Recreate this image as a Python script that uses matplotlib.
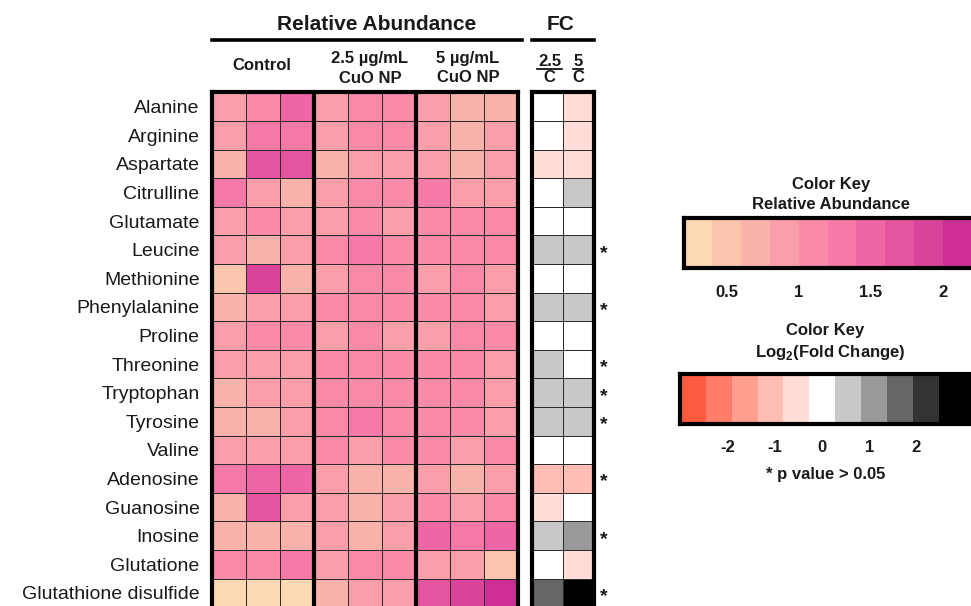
'''
Mapa de calor - Abundancia relativa de metabolitos y Fold Change (CuO NP)
'''

# Librerías.
import numpy as np
import matplotlib
matplotlib.use('Agg')
import matplotlib.pyplot as plt
from matplotlib.colors import ListedColormap, BoundaryNorm
from matplotlib.lines import Line2D

plt.rcParams['font.family'] = ['Liberation Sans', 'DejaVu Sans']
plt.rcParams['mathtext.fontset'] = 'custom'
plt.rcParams['mathtext.rm'] = 'Liberation Sans'
plt.rcParams['mathtext.bf'] = 'Liberation Sans:bold'

''' ============================== DATOS ============================== '''

metabolitos = ['Alanine', 'Arginine', 'Aspartate', 'Citrulline', 'Glutamate',
               'Leucine', 'Methionine', 'Phenylalanine', 'Proline',
               'Threonine', 'Tryptophan', 'Tyrosine', 'Valine', 'Adenosine',
               'Guanosine', 'Inosine', 'Glutatione', 'Glutathione disulfide']

# Abundancia relativa (3 réplicas por grupo).
control = [[0.9, 1.1, 1.5], [0.9, 1.3, 1.3], [0.7, 1.7, 1.7], [1.25, 0.9, 0.7],
           [0.9, 1.1, 0.9], [0.9, 0.7, 0.9], [0.5, 1.9, 0.7], [0.7, 0.9, 0.9],
           [0.9, 1.1, 1.1], [0.9, 0.9, 0.9], [0.7, 0.9, 0.9], [0.7, 0.7, 0.9],
           [0.9, 0.9, 0.9], [1.3, 1.5, 1.5], [0.7, 1.7, 0.9], [0.7, 0.7, 0.7],
           [1.1, 1.1, 1.3], [0.3, 0.3, 0.3]]

cuo_25 = [[0.9, 1.1, 1.1], [0.9, 1.1, 1.1], [0.7, 0.9, 0.9], [0.9, 1.1, 1.1],
          [0.9, 1.1, 0.9], [1.1, 1.3, 1.1], [0.9, 1.1, 1.1], [1.1, 1.1, 1.1],
          [0.9, 1.1, 0.9], [1.1, 1.1, 1.1], [1.1, 1.1, 1.1], [1.1, 1.3, 1.1],
          [1.1, 0.9, 1.1], [0.9, 0.7, 0.7], [0.9, 0.7, 0.9], [0.9, 0.7, 0.9],
          [0.9, 1.1, 1.1], [0.7, 0.9, 0.9]]

cuo_5 = [[0.9, 0.7, 0.7], [0.9, 0.7, 0.9], [0.9, 0.7, 0.9], [1.3, 0.9, 0.9],
         [1.1, 1.1, 1.1], [1.1, 1.1, 1.1], [0.9, 1.1, 0.9], [1.1, 1.1, 0.9],
         [0.9, 1.1, 1.1], [1.1, 1.1, 0.9], [1.1, 1.1, 0.9], [1.1, 1.1, 0.9],
         [1.1, 0.9, 1.1], [0.9, 0.7, 0.9], [1.1, 0.9, 1.1], [1.5, 1.3, 1.5],
         [0.9, 0.9, 0.5], [1.7, 1.9, 2.1]]

# Log2(Fold Change) frente al control.
fc_25 = [0, 0, -0.5, 0, 0, 0.5, 0, 0.5, 0, 0.5, 0.5, 0.5, 0, -1.1, -0.5, 0.5, 0, 1.6]
fc_5 = [-0.5, -0.5, -0.5, 0.5, 0, 0.5, 0, 0.5, 0, 0, 0.5, 0.5, 0, -1.1, 0, 1.1, -0.5, 2.8]

# Metabolitos con p > 0.05.
no_signif = ['Leucine', 'Phenylalanine', 'Threonine', 'Tryptophan',
             'Tyrosine', 'Adenosine', 'Inosine', 'Glutathione disulfide']

# Escalas de color.
ra_colores = ['#FDD9B3', '#FCC6AE', '#FBB2AA', '#FA9FAA', '#F98BA9', '#F679A8',
              '#EE66A3', '#E4549F', '#D9439C', '#CE2F97', '#C21F92', '#B8128E']
ra_limites = [0.2, 0.4, 0.6, 0.8, 1.0, 1.2, 1.4, 1.6, 1.8, 2.0, 2.2, 2.4, 2.6]
ra_ticks = [0.5, 1, 1.5, 2]

fc_colores = ['#FF5B40', '#FF7C68', '#FF9F90', '#FFBEB4', '#FFDDD9', '#FFFFFF',
              '#C8C8C8', '#999999', '#666666', '#333333', '#000000']
fc_limites = [-3.025, -2.475, -1.925, -1.375, -0.825, -0.275, 0.275,
              0.825, 1.375, 1.925, 2.475, 4.0]
fc_ticks = [-2, -1, 0, 1, 2]

''' ============================= FIGURA ============================= '''

W, H = 971, 606
fig = plt.figure(figsize=(W / 100, H / 100), dpi=100)
negro = '#1a1a1a'

def ejes(x0, y0, x1, y1):
    # Ejes en coordenadas de píxel (origen arriba a la izquierda).
    return fig.add_axes([x0 / W, 1 - y1 / H, (x1 - x0) / W, (y1 - y0) / H])

def texto(x, y, s, **kw):
    fig.text(x / W, 1 - y / H, s, ha='center', va='center', color=negro, **kw)

def linea(x0, x1, y, lw):
    fig.add_artist(Line2D([x0 / W, x1 / W], [1 - y / H, 1 - y / H],
                          color='black', lw=lw))

cmap_ra = ListedColormap(ra_colores)
norm_ra = BoundaryNorm(ra_limites, cmap_ra.N)
cmap_fc = ListedColormap(fc_colores)
norm_fc = BoundaryNorm(fc_limites, cmap_fc.N)

# Mapa de abundancia relativa.
ax = ejes(212, 92.5, 518, 607.3)
datos = np.hstack([control, cuo_25, cuo_5])
ax.pcolormesh(datos, cmap=cmap_ra, norm=norm_ra, edgecolors='#2b2b2b', linewidth=0.7)
ax.set_xlim(0, 9)
ax.set_ylim(len(metabolitos), 0)
for x in (3, 6):
    ax.axvline(x, color='black', lw=3)
for s in ax.spines.values():
    s.set_linewidth(3)
ax.set_xticks([])
ax.set_yticks(np.arange(len(metabolitos)) + 0.5, metabolitos, fontsize=14, color=negro)
ax.tick_params(axis='y', length=0, pad=9)

# Mapa de Fold Change.
axf = ejes(531.5, 92.5, 594, 607.3)
axf.pcolormesh(np.column_stack([fc_25, fc_5]), cmap=cmap_fc, norm=norm_fc,
               edgecolors='#2b2b2b', linewidth=0.7)
axf.set_xlim(0, 2)
axf.set_ylim(len(metabolitos), 0)
for s in axf.spines.values():
    s.set_linewidth(3)
axf.set_xticks([])
axf.set_yticks([])
for i, nombre in enumerate(metabolitos):
    if nombre in no_signif:
        axf.text(2.3, i + 0.62, '*', fontsize=14, fontweight='bold', color=negro,
                 ha='center', va='center', clip_on=False)

# Encabezados.
texto(377, 24, 'Relative Abundance', fontsize=15, fontweight='bold')
texto(561, 24, 'FC', fontsize=15, fontweight='bold')
linea(212, 522, 40, 2.6)
linea(532, 594, 40, 2.6)
texto(262, 65, 'Control', fontsize=12, fontweight='bold')
texto(370, 59, '2.5 µg/mL', fontsize=12, fontweight='bold')
texto(370, 78.5, 'CuO NP', fontsize=12, fontweight='bold')
texto(468, 58, '5 µg/mL', fontsize=12, fontweight='bold')
texto(468, 77, 'CuO NP', fontsize=12, fontweight='bold')
texto(549.5, 61, '2.5', fontsize=12, fontweight='bold')
texto(578, 61, '5', fontsize=12, fontweight='bold')
texto(549.5, 78, 'C', fontsize=12, fontweight='bold')
texto(578, 78, 'C', fontsize=12, fontweight='bold')
linea(537, 562, 68.5, 1.2)
linea(573, 583, 68.5, 1.2)

# Clave de color: abundancia relativa.
texto(831, 184, 'Color Key', fontsize=12, fontweight='bold')
texto(831, 204, 'Relative Abundance', fontsize=12, fontweight='bold')
ak1 = ejes(683.5, 218, 1010, 268)
centros_ra = [(a + b) / 2 for a, b in zip(ra_limites[:-1], ra_limites[1:])]
ak1.pcolormesh(ra_limites, [0, 1], [centros_ra], cmap=cmap_ra, norm=norm_ra)
ak1.set_xlim(0.2, 0.2 + (1010 - 683.5) / 144)
ak1.set_ylim(0, 1)
ak1.set_yticks([])
ak1.set_xticks(ra_ticks, ['0.5', '1', '1.5', '2'], fontsize=12, fontweight='bold', color=negro)
ak1.tick_params(axis='x', length=0, pad=12)
for s in ak1.spines.values():
    s.set_linewidth(3)

# Clave de color: Log2(Fold Change).
texto(825, 331, 'Color Key', fontsize=12, fontweight='bold')
texto(830, 352, r'Log$_{\mathbf{2}}$(Fold Change)', fontsize=12, fontweight='bold')
ak2 = ejes(680, 373.5, 1010, 423.5)
centros_fc = [(a + b) / 2 for a, b in zip(fc_limites[:-1], fc_limites[1:])]
ak2.pcolormesh(fc_limites, [0, 1], [centros_fc], cmap=cmap_fc, norm=norm_fc)
ak2.set_xlim(-3.025, -3.025 + (1010 - 680) / 47)
ak2.set_ylim(0, 1)
ak2.set_yticks([])
ak2.set_xticks(fc_ticks, ['-2', '-1', '0', '1', '2'], fontsize=12, fontweight='bold', color=negro)
ak2.tick_params(axis='x', length=0, pad=12)
for s in ak2.spines.values():
    s.set_linewidth(3)
texto(826, 474, '* p value > 0.05', fontsize=12, fontweight='bold')

fig.savefig('out.png', dpi=100)
